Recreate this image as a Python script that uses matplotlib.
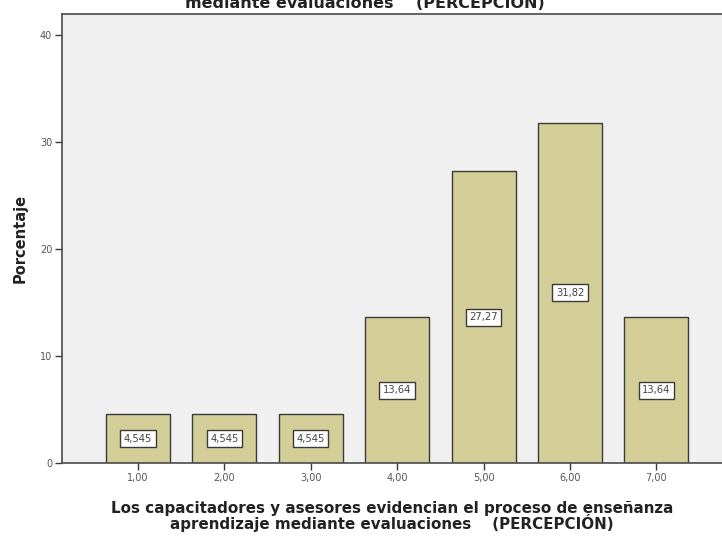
import matplotlib
matplotlib.use("Agg")
import matplotlib.pyplot as plt

categories = [1, 2, 3, 4, 5, 6, 7]
tick_labels = ["1,00", "2,00", "3,00", "4,00", "5,00", "6,00", "7,00"]
percentages = [4.545, 4.545, 4.545, 13.64, 27.27, 31.82, 13.64]
bar_labels = ["4,545", "4,545", "4,545", "13,64", "27,27", "31,82", "13,64"]
y_ticks = [0, 10, 20, 30, 40]

plt.rcParams["font.family"] = ["DejaVu Sans"]

W, H = 722, 536
fig = plt.figure(figsize=(W / 100, H / 100), dpi=100)
fig.patch.set_facecolor("white")

left, right, top, bottom = 62, 722, 14, 463
ax = fig.add_axes([left / W, 1 - bottom / H, (right - left) / W, (bottom - top) / H])
ax.set_facecolor("#f0f0f0")

ax.bar(categories, percentages, width=0.74, color="#d3ce97",
       edgecolor="#3a3a3a", linewidth=1.0, zorder=2)

for x, v, lab in zip(categories, percentages, bar_labels):
    ax.text(x, v / 2, lab, ha="center", va="center", fontsize=7.2,
            color="#444444", zorder=3,
            bbox=dict(boxstyle="square,pad=0.35", facecolor="white",
                      edgecolor="#3a3a3a", linewidth=1.0))

ax.set_xlim(0.12, 7.76)
ax.set_ylim(0, 42)
ax.set_xticks(categories)
ax.set_xticklabels(tick_labels, fontsize=7, color="#555555")
ax.set_yticks(y_ticks)
ax.set_yticklabels([str(t) for t in y_ticks], fontsize=7, color="#555555")
ax.tick_params(axis="both", direction="out", length=5, width=1.0, color="#3a3a3a", pad=2)

ax.spines["right"].set_visible(False)
for side in ["left", "bottom", "top"]:
    ax.spines[side].set_color("#4a4a4a")
    ax.spines[side].set_linewidth(1.2)

ax.set_ylabel("Porcentaje", fontsize=10.5, fontweight="bold", color="#222222", labelpad=9)
ax.set_xlabel("Los capacitadores y asesores evidencian el proceso de enseñanza\n"
              "aprendizaje mediante evaluaciones    (PERCEPCIÓN)",
              fontsize=10.9, fontweight="bold", color="#222222", labelpad=13,
              linespacing=0.88)

fig.text(365 / W, 1 - 3 / H,
         "mediante evaluaciones    (PERCEPCIÓN)",
         ha="center", va="center", fontsize=11.5, fontweight="bold", color="#222222")

fig.savefig("out.png", dpi=100)
